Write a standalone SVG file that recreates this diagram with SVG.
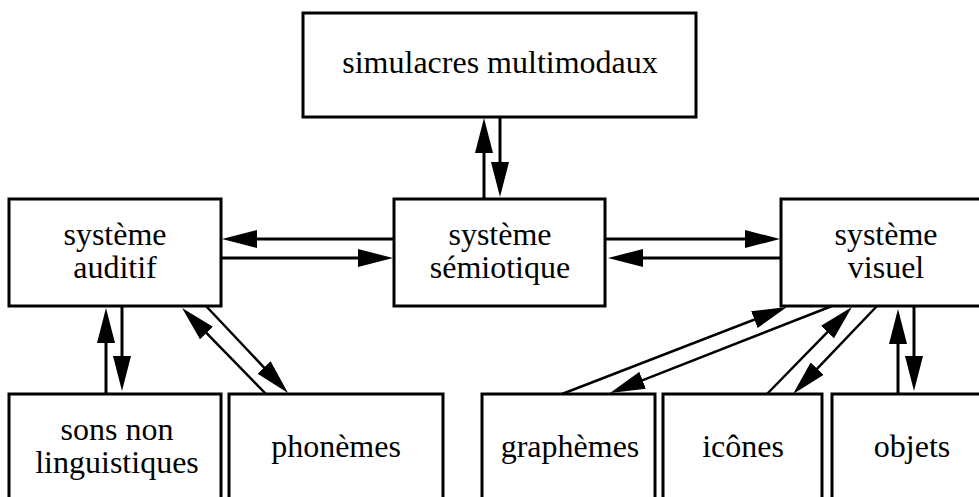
<svg xmlns="http://www.w3.org/2000/svg" width="979" height="497" viewBox="0 0 979 497">
<style>
.box{fill:#fff;stroke:#000;stroke-width:3}
.lbl{font-family:"Liberation Serif","Times New Roman",serif;font-size:32px;fill:#000;text-anchor:middle}
.c{fill:none;stroke:#000;stroke-width:3;marker-end:url(#ah)}
.d{fill:none;stroke:#000;stroke-width:2.5;marker-end:url(#ah)}
</style>
<defs>
<marker id="ah" viewBox="0 0 35 18" refX="10" refY="9" markerWidth="35" markerHeight="18" markerUnits="userSpaceOnUse" orient="auto">
<path d="M0,0 L35,9 L0,18 Z" fill="#000"/>
</marker>
</defs>
<rect width="979" height="497" fill="#fff"/>
<g id="simulacres">
<rect class="box" x="303" y="13" width="393" height="104"/>
<text class="lbl" x="500" y="73">simulacres multimodaux</text>
</g>
<g id="auditif">
<rect class="box" x="9" y="199" width="212" height="107"/>
<text class="lbl" x="115" y="245">système</text>
<text class="lbl" x="115" y="278">auditif</text>
</g>
<g id="semiotique">
<rect class="box" x="394" y="199" width="211" height="107"/>
<text class="lbl" x="500" y="245">système</text>
<text class="lbl" x="500" y="278">sémiotique</text>
</g>
<g id="visuel">
<rect class="box" x="781" y="199" width="212" height="107"/>
<text class="lbl" x="886" y="245">système</text>
<text class="lbl" x="886" y="278">visuel</text>
</g>
<g id="sons">
<rect class="box" x="9" y="394" width="212" height="120"/>
<text class="lbl" x="117" y="440">sons non</text>
<text class="lbl" x="117" y="473">linguistiques</text>
</g>
<g id="phonemes">
<rect class="box" x="229" y="394" width="214" height="120"/>
<text class="lbl" x="336" y="457">phonèmes</text>
</g>
<g id="graphemes">
<rect class="box" x="482" y="394" width="173" height="120"/>
<text class="lbl" x="570" y="457">graphèmes</text>
</g>
<g id="icones">
<rect class="box" x="663" y="394" width="159" height="120"/>
<text class="lbl" x="743" y="457">icônes</text>
</g>
<g id="objets">
<rect class="box" x="832" y="394" width="161" height="120"/>
<text class="lbl" x="912" y="457">objets</text>
</g>
<g id="connectors">
<path class="c" d="M484,199 L484,143"/>
<path class="c" d="M500,117 L500,172"/>
<path class="c" d="M394,239 L247,239"/>
<path class="c" d="M221,258 L368,258"/>
<path class="c" d="M605,239 L755,239"/>
<path class="c" d="M781,258 L633,258"/>
<path class="c" d="M106,394 L106,333"/>
<path class="c" d="M122,306 L122,366"/>
<path class="d" d="M266,394 L199.5,325.9"/>
<path class="d" d="M206,306 L270.9,374.8"/>
<path class="d" d="M562,394 L763.7,316"/>
<path class="d" d="M832,306 L633.3,383.9"/>
<path class="d" d="M767,394 L834.5,324.9"/>
<path class="d" d="M877,306 L810.3,375.9"/>
<path class="c" d="M898,394 L898,334"/>
<path class="c" d="M914,306 L914,366"/>
</g>
</svg>
